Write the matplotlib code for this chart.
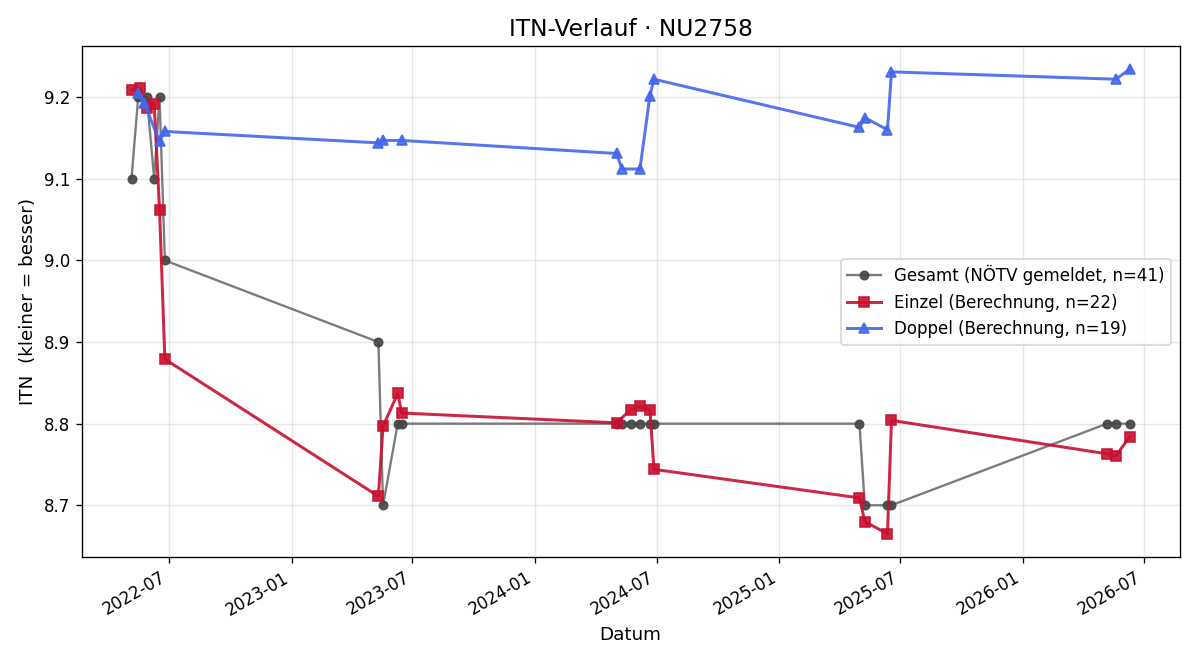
import numpy as np
import pandas as pd
import matplotlib
matplotlib.use("Agg")
import matplotlib.pyplot as plt
import matplotlib.dates as mdates

# Gesamt (NÖTV gemeldet)
gesamt_dates = ["2022-05-06", "2022-05-16", "2022-05-29", "2022-06-09", "2022-06-17", "2022-06-25",
                "2023-05-11", "2023-05-18", "2023-06-09", "2023-06-15",
                "2024-05-02", "2024-05-10", "2024-05-23", "2024-06-06", "2024-06-21", "2024-06-27",
                "2025-05-01", "2025-05-09", "2025-06-12", "2025-06-18",
                "2026-05-07", "2026-05-20", "2026-06-10"]
gesamt_itn = [9.1, 9.2, 9.2, 9.1, 9.2, 9.0,
              8.9, 8.7, 8.8, 8.8,
              8.8, 8.8, 8.8, 8.8, 8.8, 8.8,
              8.8, 8.7, 8.7, 8.7,
              8.8, 8.8, 8.8]

# Einzel (Berechnung)
einzel_dates = ["2022-05-06", "2022-05-19", "2022-05-29", "2022-06-09", "2022-06-17", "2022-06-25",
                "2023-05-11", "2023-05-18", "2023-06-09", "2023-06-15",
                "2024-05-02", "2024-05-23", "2024-06-06", "2024-06-21", "2024-06-27",
                "2025-05-01", "2025-05-09", "2025-06-12", "2025-06-18",
                "2026-05-07", "2026-05-20", "2026-06-10"]
einzel_itn = [9.209, 9.211, 9.187, 9.192, 9.062, 8.879,
              8.711, 8.797, 8.837, 8.813,
              8.801, 8.817, 8.821, 8.817, 8.744,
              8.709, 8.680, 8.665, 8.804,
              8.763, 8.760, 8.784]

# Doppel (Berechnung)
doppel_dates = ["2022-05-16", "2022-05-25", "2022-06-17", "2022-06-25",
                "2023-05-11", "2023-05-18", "2023-06-15",
                "2024-05-02", "2024-05-10", "2024-06-06", "2024-06-21", "2024-06-27",
                "2025-05-01", "2025-05-09", "2025-06-12", "2025-06-18",
                "2026-05-20", "2026-06-10"]
doppel_itn = [9.205, 9.193, 9.146, 9.158,
              9.144, 9.147, 9.147,
              9.131, 9.112, 9.112, 9.202, 9.222,
              9.163, 9.175, 9.160, 9.231,
              9.222, 9.234]

fig, ax = plt.subplots(figsize=(10, 5.5), dpi=120)

ax.plot(pd.to_datetime(gesamt_dates), gesamt_itn, color=(0.27, 0.27, 0.27, 0.7), lw=1.4,
        marker="o", ms=5, mfc=(0.27, 0.27, 0.27, 0.9), mec=(0.27, 0.27, 0.27, 0.9),
        label="Gesamt (NÖTV gemeldet, n=41)")
ax.plot(pd.to_datetime(einzel_dates), einzel_itn, color="#c8102e", alpha=0.9, lw=1.8,
        marker="s", ms=5.8, label="Einzel (Berechnung, n=22)")
ax.plot(pd.to_datetime(doppel_dates), doppel_itn, color="#4466ee", alpha=0.9, lw=1.8,
        marker="^", ms=5.8, label="Doppel (Berechnung, n=19)")

ax.set_title("ITN-Verlauf · NU2758", fontsize=14)
ax.set_xlabel("Datum", fontsize=11)
ax.set_ylabel("ITN  (kleiner = besser)", fontsize=11)
ax.grid(True, alpha=0.3)
ax.xaxis.set_major_locator(mdates.MonthLocator(bymonth=[1, 7]))
ax.xaxis.set_major_formatter(mdates.DateFormatter("%Y-%m"))
ax.legend(loc="center right", fontsize=10)
fig.autofmt_xdate()

fig.subplots_adjust(left=0.068, right=0.983, top=0.93, bottom=0.156)
fig.savefig("out.png")
